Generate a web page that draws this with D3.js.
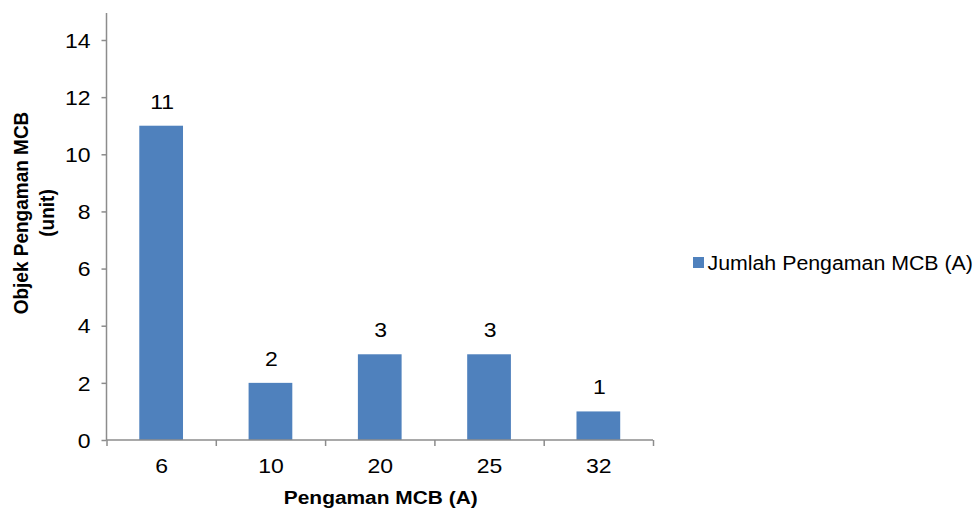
<!DOCTYPE html>
<html>
<head>
<meta charset="utf-8">
<script src="https://cdn.jsdelivr.net/npm/d3@7"></script>
<style>
  html, body { margin: 0; padding: 0; background: #ffffff; }
  svg { display: block; }
  text { font-family: "Liberation Sans", Arial, sans-serif; fill: #000; }
</style>
</head>
<body>
<svg id="chart" width="975" height="509"></svg>
<script>
// Data: number of MCB protection devices per rating
const categories = ["6", "10", "20", "25", "32"];
const values = [11, 2, 3, 3, 1];
const yTicks = [0, 2, 4, 6, 8, 10, 12, 14];
const seriesName = "Jumlah Pengaman MCB (A)";
const xTitle = "Pengaman MCB (A)";
const yTitleLines = ["Objek Pengaman MCB", "(unit)"];

const plot = { left: 106.5, right: 653, top: 13, bottom: 440 };
const barColor = "#4F81BD";
const axisColor = "#8C8C8C";
const fontSize = 19;      // titles
const legendSize = 19.4;  // legend entry
const numSize = 20;       // tick and value numbers
const stretch = 1.1;      // horizontal glyph stretch of titles / legend
const numStretch = 1.15;  // horizontal glyph stretch of numbers

const svg = d3.select("#chart");

const y = d3.scaleLinear().domain([0, 14]).range([plot.bottom, 40]);
const x = d3.scaleBand()
  .domain(categories)
  .range([plot.left, plot.right])
  .paddingInner(0.6)
  .paddingOuter(0.3);
// band boundaries for the category tick marks
const xEdges = d3.scaleLinear().domain([0, categories.length]).range([plot.left, plot.right]);

// position a text element at (px, py) with a horizontal stretch
function place(sel, px, py, s, rotate) {
  sel.attr("x", null).attr("y", null)
     .attr("transform", `translate(${px},${py}) scale(${s},1)` + (rotate ? ` rotate(${rotate})` : ""));
}

// bars
svg.append("g")
  .selectAll("rect")
  .data(values)
  .join("rect")
  .attr("x", (d, i) => x(categories[i]))
  .attr("y", d => y(d))
  .attr("width", x.bandwidth())
  .attr("height", d => y(0) - y(d))
  .attr("fill", barColor);

// value labels
svg.append("g")
  .selectAll("text")
  .data(values)
  .join("text")
  .attr("text-anchor", "middle")
  .style("font-size", numSize + "px")
  .text(d => d)
  .each(function(d, i) {
    place(d3.select(this), x(categories[i]) + x.bandwidth() / 2 + 1, y(d) - 17, numStretch);
  });

// y axis
const yAxis = svg.append("g")
  .attr("transform", `translate(${plot.left},0)`)
  .call(d3.axisLeft(y).tickValues(yTicks).tickSize(5).tickPadding(10));
yAxis.select(".domain").remove();
yAxis.append("line")
  .attr("x1", 0).attr("x2", 0)
  .attr("y1", plot.top).attr("y2", plot.bottom)
  .attr("stroke", axisColor).attr("stroke-width", 1.5);
yAxis.selectAll(".tick line").attr("stroke", axisColor).attr("stroke-width", 1.5);
yAxis.selectAll(".tick text")
  .style("font-size", numSize + "px")
  .attr("font-family", null)
  .each(function() {
    const t = d3.select(this);
    t.attr("dy", null);
    place(t, -16, 7.2, numStretch);
  });

// x axis: tick marks at category boundaries
const xAxis = svg.append("g")
  .attr("transform", `translate(0,${plot.bottom})`)
  .call(d3.axisBottom(xEdges).tickValues(d3.range(categories.length + 1)).tickSize(6).tickFormat(""));
xAxis.select(".domain").attr("stroke", axisColor).attr("stroke-width", 1.5)
  .attr("d", `M${plot.left},0H${plot.right}`);
xAxis.selectAll(".tick line").attr("stroke", axisColor).attr("stroke-width", 1.5);

// x axis: category labels
const xLabels = svg.append("g")
  .attr("transform", `translate(0,${plot.bottom})`)
  .call(d3.axisBottom(x).tickSize(0).tickPadding(19));
xLabels.select(".domain").remove();
xLabels.selectAll(".tick text")
  .style("font-size", numSize + "px")
  .attr("font-family", null)
  .each(function() {
    const t = d3.select(this);
    t.attr("dy", null);
    place(t, 0.5, 32.8, numStretch);
  });

// axis titles
const xt = svg.append("text")
  .attr("text-anchor", "middle")
  .style("font-size", fontSize + "px")
  .style("font-weight", "bold")
  .text(xTitle);
place(xt, (plot.left + plot.right) / 2 + 1, 504, stretch);

yTitleLines.forEach((line, i) => {
  const t = svg.append("text")
    .attr("text-anchor", "middle")
    .style("font-size", fontSize + "px")
    .style("font-weight", "bold")
    .text(line);
  place(t, 28 + i * 26, 213, stretch, -90);
});

// legend
const legend = svg.append("g");
legend.append("rect")
  .attr("x", 693).attr("y", 257)
  .attr("width", 11).attr("height", 11)
  .attr("fill", barColor);
const lt = legend.append("text")
  .style("font-size", legendSize + "px")
  .text(seriesName);
place(lt, 707.5, 270, stretch);
</script>
</body>
</html>
